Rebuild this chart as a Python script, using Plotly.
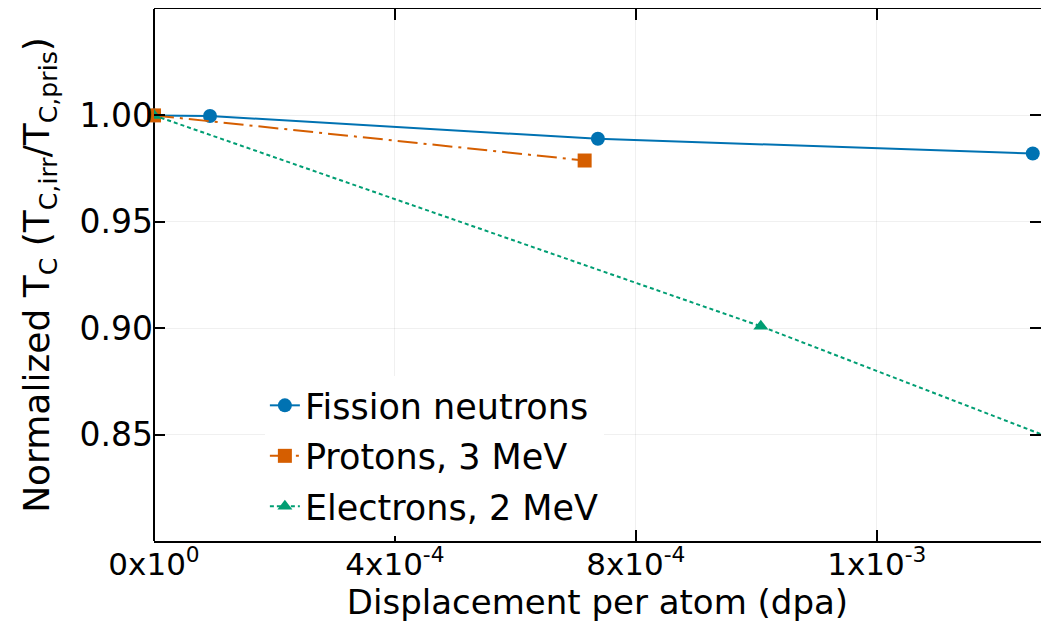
import plotly.graph_objects as go

# ---- data ----
neutron_dpa = [0.0, 9.3e-5, 7.37e-4, 1.459e-3]
neutron_tc = [1.0, 0.9997, 0.989, 0.9821]

proton_dpa = [0.0, 7.15e-4]
proton_tc = [1.0, 0.9788]

electron_dpa = [0.0, 1.0075e-3, 2.0e-3]
electron_tc = [1.0, 0.9009, 0.7927]

x_tickvals = [0.0, 4e-4, 8e-4, 1.2e-3]
x_ticktext = ["0x10<sup>0</sup>", "4x10<sup>-4</sup>", "8x10<sup>-4</sup>", "1x10<sup>-3</sup>"]
y_tickvals = [0.85, 0.90, 0.95, 1.00]
y_ticktext = ["0.85", "0.90", "0.95", "1.00"]

BLUE = "#0072B2"
ORANGE = "#D55E00"
GREEN = "#009E73"
FONT = "DejaVu Sans"

fig = go.Figure()
fig.add_trace(go.Scatter(
    x=neutron_dpa, y=neutron_tc, name="Fission neutrons", mode="lines+markers",
    line=dict(color=BLUE, width=2),
    marker=dict(symbol="circle", size=14, color=BLUE),
    legendgroup="a", cliponaxis=False,
))
fig.add_trace(go.Scatter(
    x=proton_dpa, y=proton_tc, name="Protons, 3 MeV", mode="lines+markers",
    line=dict(color=ORANGE, width=2, dash="20px,6px,3px,6px"),
    marker=dict(symbol="square", size=14, color=ORANGE),
    legendgroup="b", cliponaxis=False,
))
fig.add_trace(go.Scatter(
    x=electron_dpa, y=electron_tc, name="Electrons, 2 MeV", mode="lines+markers",
    line=dict(color=GREEN, width=2, dash="4px,3px"),
    marker=dict(symbol="triangle-up", size=13, color=GREEN),
    legendgroup="c",
))

# the page body has an 8px margin; size and margins below fit the page without overflow
x_max = 887.0 / 602.3 * 1e-3

fig.update_layout(
    width=1033, height=614,
    margin=dict(l=146, r=0, t=1, b=81),
    paper_bgcolor="white", plot_bgcolor="white",
    font=dict(family=FONT, size=35, color="black"),
    showlegend=True,
    legend=dict(
        x=0.125, y=0.31, xanchor="left", yanchor="top",
        bgcolor="white", borderwidth=0,
        font=dict(family=FONT, size=35, color="black"),
        tracegroupgap=2,
    ),
    xaxis=dict(
        range=[0, x_max],
        tickmode="array", tickvals=x_tickvals, ticktext=x_ticktext,
        ticks="inside", ticklen=11, tickwidth=1.5, tickcolor="black",
        ticklabelstandoff=-5,
        showline=True, linecolor="black", linewidth=1.5, mirror="ticks",
        showgrid=True, gridcolor="rgba(0,0,0,0.06)", gridwidth=1,
        zeroline=True, zerolinecolor="black", zerolinewidth=1.5,
        tickfont=dict(family=FONT, size=31),
        automargin=False,
        title=dict(text="Displacement per atom (dpa)", font=dict(family=FONT, size=34), standoff=14),
    ),
    yaxis=dict(
        range=[0.80, 1.05],
        tickmode="array", tickvals=y_tickvals, ticktext=y_ticktext,
        ticks="inside", ticklen=11, tickwidth=1.5, tickcolor="black",
        showline=False, mirror="ticks",
        showgrid=True, gridcolor="rgba(0,0,0,0.06)", gridwidth=1,
        zeroline=False,
        tickfont=dict(family=FONT, size=33),
        title=dict(
            text="Normalized T<sub>C</sub> (T<sub>C,irr</sub>/T<sub>C,pris</sub>)",
            font=dict(family=FONT, size=36), standoff=18,
        ),
    ),
)

fig.write_html("out.html")
